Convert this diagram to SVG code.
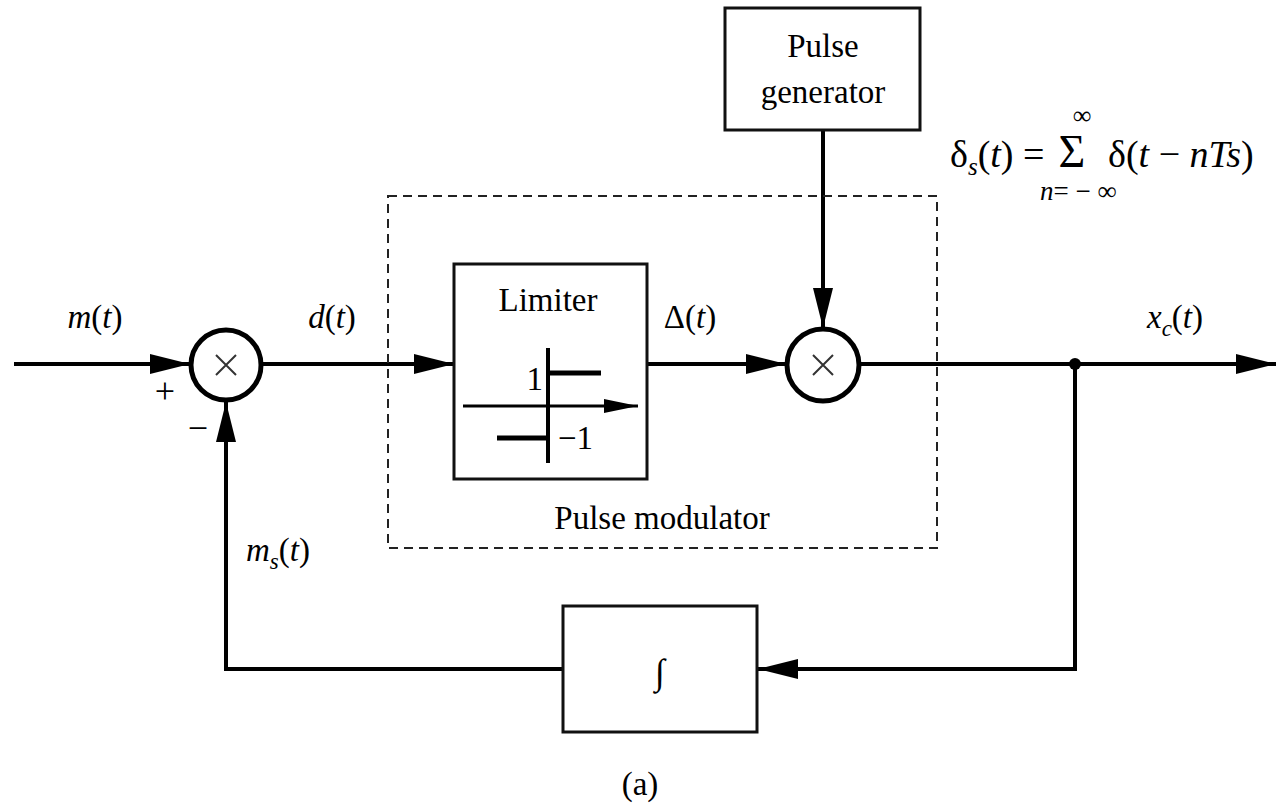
<svg xmlns="http://www.w3.org/2000/svg" width="1277" height="809" viewBox="0 0 1277 809" font-family="Liberation Serif, Times New Roman, serif">
<style>
.t{font-size:33px;fill:#000}
.i{font-style:italic}
.ln{stroke:#000;stroke-width:4;fill:none}
.bx{stroke:#111;stroke-width:3;fill:#fff}
</style>
<defs>
<marker id="ah" markerUnits="userSpaceOnUse" markerWidth="42" markerHeight="24" refX="40" refY="12" orient="auto">
<path d="M0,2 L40,12 L0,22 Z" fill="#000"/>
</marker>
<marker id="ahs" markerUnits="userSpaceOnUse" markerWidth="36" markerHeight="20" refX="34" refY="10" orient="auto">
<path d="M0,3 L34,10 L0,17 Z" fill="#000"/>
</marker>
</defs>
<rect width="1277" height="809" fill="#fff"/>
<g id="connectors">
<line class="ln" x1="14" y1="364" x2="190" y2="364" marker-end="url(#ah)"/>
<line class="ln" x1="262" y1="364" x2="454" y2="364" marker-end="url(#ah)"/>
<line class="ln" x1="647" y1="364" x2="786" y2="364" marker-end="url(#ah)"/>
<line class="ln" x1="823" y1="130" x2="823" y2="328" marker-end="url(#ah)"/>
<line class="ln" x1="860" y1="364" x2="1276" y2="364" marker-end="url(#ah)"/>
<polyline class="ln" points="1075,364 1075,669 758,669" marker-end="url(#ah)"/>
<polyline class="ln" points="563,669 226,669 226,402" marker-end="url(#ah)"/>
<circle cx="1075" cy="364" r="6" fill="#000"/>
</g>
<g id="sum1">
<circle cx="226" cy="365" r="35" fill="#fff" stroke="#000" stroke-width="5"/>
<path d="M216,355 L236,375 M236,355 L216,375" stroke="#333" stroke-width="2"/>
<text class="t" x="165" y="403" text-anchor="middle" style="font-size:36px">+</text>
<text class="t" x="198" y="440" text-anchor="middle" style="font-size:36px">−</text>
</g>
<g id="pulse-modulator">
<rect x="388" y="196" width="549" height="352" fill="none" stroke="#222" stroke-width="2" stroke-dasharray="9,6"/>
<text class="t" x="662" y="529" text-anchor="middle">Pulse modulator</text>
</g>
<g id="limiter">
<rect class="bx" x="454" y="264" width="193" height="215"/>
<text class="t" x="548" y="311" text-anchor="middle">Limiter</text>
<line x1="548" y1="348" x2="548" y2="463" stroke="#000" stroke-width="4"/>
<line x1="548" y1="373" x2="601" y2="373" stroke="#000" stroke-width="5"/>
<line x1="497" y1="438" x2="548" y2="438" stroke="#000" stroke-width="5"/>
<line x1="463" y1="406" x2="638" y2="406" stroke="#000" stroke-width="3" marker-end="url(#ahs)"/>
<text class="t" x="543" y="390" text-anchor="end">1</text>
<text class="t" x="558" y="449">−1</text>
</g>
<g id="mult2">
<circle cx="823" cy="365" r="36" fill="#fff" stroke="#000" stroke-width="5"/>
<path d="M813,355 L833,375 M833,355 L813,375" stroke="#333" stroke-width="2"/>
</g>
<g id="pulse-generator">
<rect class="bx" x="725" y="8" width="195" height="122"/>
<text class="t" x="823" y="57" text-anchor="middle">Pulse</text>
<text class="t" x="823" y="103" text-anchor="middle">generator</text>
</g>
<g id="integrator">
<rect class="bx" x="563" y="606" width="194" height="126"/>
<text class="t i" x="660" y="684" text-anchor="middle" style="font-size:36px">∫</text>
</g>
<g id="labels">
<text class="t" x="95" y="328" text-anchor="middle"><tspan class="i">m</tspan>(<tspan class="i">t</tspan>)</text>
<text class="t" x="332" y="328" text-anchor="middle"><tspan class="i">d</tspan>(<tspan class="i">t</tspan>)</text>
<text class="t" x="690" y="328" text-anchor="middle">Δ(<tspan class="i">t</tspan>)</text>
<text class="t" x="1175" y="328" text-anchor="middle"><tspan class="i">x</tspan><tspan class="i" style="font-size:23px" dy="8">c</tspan><tspan dy="-8">(</tspan><tspan class="i">t</tspan>)</text>
<text class="t" x="246" y="561"><tspan class="i">m</tspan><tspan class="i" style="font-size:23px" dy="8">s</tspan><tspan dy="-8">(</tspan><tspan class="i">t</tspan>)</text>
<text class="t" x="640" y="795" text-anchor="middle">(a)</text>
</g>
<g id="formula">
<text class="t" x="950" y="167" style="font-size:38px">δ<tspan class="i" style="font-size:25px" dy="8">s</tspan><tspan dy="-8">(</tspan><tspan class="i">t</tspan>) =</text>
<text class="t" x="1072" y="167" text-anchor="middle" style="font-size:46px">Σ</text>
<text class="t" x="1108" y="167" style="font-size:38px">δ(<tspan class="i">t</tspan> − <tspan class="i">nTs</tspan>)</text>
<text class="t" x="1082" y="124" text-anchor="middle" style="font-size:26px">∞</text>
<text class="t" x="1040" y="200" style="font-size:27px"><tspan class="i">n</tspan>= − ∞</text>
</g>
</svg>
